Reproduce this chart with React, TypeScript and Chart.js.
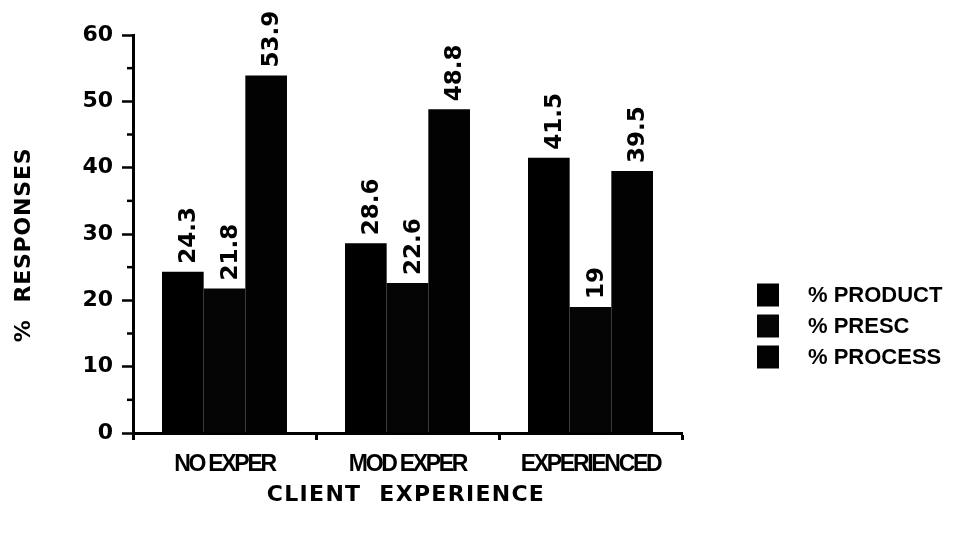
import React, { useEffect, useRef } from "react";
import { Chart, registerables } from "chart.js";

Chart.register(...registerables);

// Client experience groups and the share of responses per type
const categories = ["NO EXPER", "MOD EXPER", "EXPERIENCED"];
const seriesNames = ["% PRODUCT", "% PRESC", "% PROCESS"];
const productValues = [24.3, 28.6, 41.5];
const prescValues = [21.8, 22.6, 19];
const processValues = [53.9, 48.8, 39.5];
const majorTicks = [0, 10, 20, 30, 40, 50, 60];
const minorTicks = [5, 15, 25, 35, 45, 55];
const seriesColors = ["#000000", "#050505", "#020202"];

const W = 939;
const H = 520;
const FONT = "'Liberation Sans', Arial, Helvetica, sans-serif";
const WIDE = "'DejaVu Sans', Verdana, sans-serif";

const decorations = {
  id: "decorations",
  afterDraw(chart: any) {
    const ctx = chart.ctx as CanvasRenderingContext2D;
    const area = chart.chartArea;
    const xs = chart.scales.x;
    const ys = chart.scales.y;

    // minor ticks on the value axis
    ctx.save();
    ctx.strokeStyle = "#000";
    ctx.lineWidth = 2.5;
    minorTicks.forEach((v) => {
      const y = ys.getPixelForValue(v);
      ctx.beginPath();
      ctx.moveTo(area.left - 6, y);
      ctx.lineTo(area.left, y);
      ctx.stroke();
    });
    ctx.restore();

    // value labels, rotated, above each bar
    ctx.save();
    ctx.fillStyle = "#000";
    ctx.font = `bold 23px ${WIDE}`;
    ctx.textAlign = "left";
    ctx.textBaseline = "alphabetic";
    chart.data.datasets.forEach((ds: any, di: number) => {
      const meta = chart.getDatasetMeta(di);
      meta.data.forEach((bar: any, i: number) => {
        ctx.save();
        ctx.translate(bar.x, bar.y - 8);
        ctx.rotate(-Math.PI / 2);
        ctx.fillText(String(ds.data[i]), 0, 12);
        ctx.restore();
      });
    });
    ctx.restore();

    // category labels
    ctx.save();
    ctx.fillStyle = "#000";
    ctx.font = `bold 23px ${FONT}`;
    (ctx as any).letterSpacing = "-2.3px";
    ctx.textAlign = "center";
    ctx.textBaseline = "middle";
    categories.forEach((c, i) => {
      ctx.fillText(c, xs.getPixelForValue(i), 457);
    });
    ctx.restore();

    // axis titles
    ctx.save();
    ctx.fillStyle = "#000";
    ctx.font = `bold 22px ${WIDE}`;
    (ctx as any).letterSpacing = "1.3px";
    ctx.textAlign = "center";
    ctx.textBaseline = "middle";
    ctx.fillText("CLIENT  EXPERIENCE", 398, 487);
    ctx.translate(16, 237);
    ctx.rotate(-Math.PI / 2);
    (ctx as any).letterSpacing = "0.8px";
    ctx.fillText("%  RESPONSES", 0, 0);
    ctx.restore();

    // legend
    ctx.save();
    ctx.font = `bold 22px ${FONT}`;
    ctx.textAlign = "left";
    ctx.textBaseline = "middle";
    const rows = [287, 318, 349];
    seriesNames.forEach((name, i) => {
      ctx.fillStyle = seriesColors[i];
      ctx.fillRect(749, rows[i] - 11.5, 22, 23);
      ctx.fillStyle = "#000";
      ctx.fillText(name, 800, rows[i] + 1);
    });
    ctx.restore();
  },
};

export default function App() {
  const ref = useRef<HTMLCanvasElement | null>(null);

  useEffect(() => {
    if (!ref.current) return;
    const chart = new Chart(ref.current, {
      type: "bar",
      data: {
        labels: categories,
        datasets: [productValues, prescValues, processValues].map((vals, i) => ({
          label: seriesNames[i],
          data: vals,
          backgroundColor: seriesColors[i],
          borderWidth: 0,
          categoryPercentage: 0.683,
          barPercentage: 1,
        })),
      },
      options: {
        responsive: false,
        animation: false,
        layout: { padding: { top: 27, right: 265, left: 0, bottom: 0 } },
        plugins: {
          legend: { display: false },
          tooltip: { enabled: false },
        },
        scales: {
          x: {
            type: "category",
            offset: true,
            afterFit: (s: any) => {
              s.height = 95;
            },
            grid: {
              offset: true,
              drawOnChartArea: false,
              drawTicks: true,
              tickLength: 7,
              tickWidth: 3,
              tickColor: "#000",
            },
            border: { display: true, width: 3, color: "#000" },
            ticks: { display: false },
          },
          y: {
            min: 0,
            max: 60,
            afterFit: (s: any) => {
              s.width = 125;
            },
            afterBuildTicks: (s: any) => {
              s.ticks = majorTicks.map((v) => ({ value: v }));
            },
            grid: {
              drawOnChartArea: false,
              drawTicks: true,
              tickLength: 11,
              tickWidth: 2.5,
              tickColor: "#000",
            },
            border: { display: true, width: 3, color: "#000" },
            ticks: {
              color: "#000",
              padding: 9,
              font: { family: WIDE, size: 22, weight: "bold" },
            },
          },
        },
      },
      plugins: [decorations],
    });
    return () => chart.destroy();
  }, []);

  return <canvas ref={ref} width={W} height={H} style={{ display: "block" }} />;
}
